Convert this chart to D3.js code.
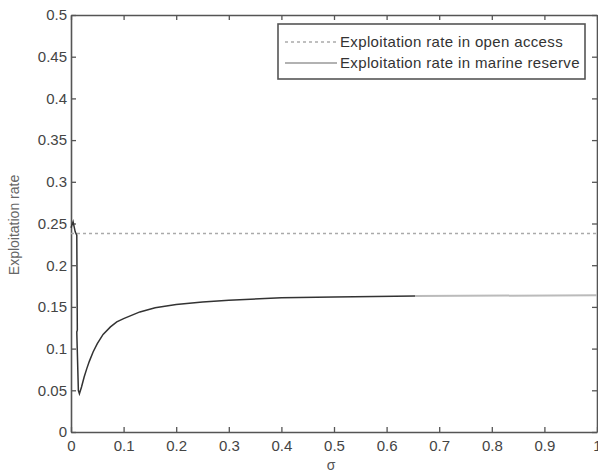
<!DOCTYPE html>
<html>
<head>
<meta charset="utf-8">
<script src="https://cdn.jsdelivr.net/npm/d3@7"></script>
<style>
  body { margin: 0; background: #fff; }
  svg { display: block; font-family: "Liberation Sans", Arial, sans-serif; }
</style>
</head>
<body>
<svg id="chart"></svg>
<script>
// chart data
const xTicks = [0, 0.1, 0.2, 0.3, 0.4, 0.5, 0.6, 0.7, 0.8, 0.9, 1];
const yTicks = [0, 0.05, 0.1, 0.15, 0.2, 0.25, 0.3, 0.35, 0.4, 0.45, 0.5];

// open access rate is flat
const openAccessRate = 0.238;

// marine reserve curve (sigma, rate)
const reserveSigma = [0, 0.004, 0.008, 0.011, 0.012, 0.011, 0.014, 0.016, 0.02, 0.025, 0.03, 0.035, 0.042, 0.05, 0.061, 0.075, 0.087, 0.1, 0.131, 0.16, 0.2, 0.25, 0.3, 0.4, 0.5, 0.654];
const reserveRate  = [0.245, 0.252, 0.240, 0.236, 0.122, 0.120, 0.050, 0.046, 0.054, 0.066, 0.076, 0.085, 0.096, 0.106, 0.117, 0.126, 0.132, 0.136, 0.144, 0.149, 0.153, 0.156, 0.158, 0.161, 0.162, 0.163];
// the last piece is drawn lighter
const tailSigma = [0.654, 1];
const tailRate  = [0.163, 0.164];

const legendLabels = ["Exploitation rate in open access", "Exploitation rate in marine reserve"];

// set the dimensions of the canvas
width = 598;
height = 474;
const margin = { left: 71, right: 1, top: 15, bottom: 42 };

const svg = d3.select("#chart")
  .attr("width", width)
  .attr("height", height);

const x = d3.scaleLinear()
  .domain([0, 1])
  .range([margin.left, width - margin.right]);

const y = d3.scaleLinear()
  .domain([0, 0.5])
  .range([height - margin.bottom, margin.top]);

const axisColor = "#555";
const fmt = (d) => String(+d.toFixed(2));

// axes, ticks point inward like a matlab box
function styleAxis(g) {
  g.selectAll("path").attr("stroke", axisColor).attr("stroke-width", 1.6);
  g.selectAll("line").attr("stroke", axisColor).attr("stroke-width", 1.3);
  g.selectAll("text").attr("fill", "#444").style("font-size", "15px");
}

svg.append("g")
  .attr("transform", `translate(0,${y(0)})`)
  .call(d3.axisBottom(x).tickValues(xTicks).tickFormat(fmt).tickSizeInner(-5).tickSizeOuter(0).tickPadding(8))
  .call(styleAxis);

svg.append("g")
  .attr("transform", `translate(${x(0)},0)`)
  .call(d3.axisLeft(y).tickValues(yTicks).tickFormat(fmt).tickSizeInner(-5).tickSizeOuter(0).tickPadding(4))
  .call(styleAxis);

// top and right borders
svg.append("g")
  .attr("transform", `translate(0,${y(0.5)})`)
  .call(d3.axisTop(x).tickValues(xTicks).tickFormat("").tickSizeInner(-5).tickSizeOuter(0))
  .call(styleAxis);

svg.append("g")
  .attr("transform", `translate(${x(1)},0)`)
  .call(d3.axisRight(y).tickValues(yTicks).tickFormat("").tickSizeInner(-5).tickSizeOuter(0))
  .call(styleAxis);

// axis labels
svg.append("text")
  .attr("x", x(0.5) - 3)
  .attr("y", 470)
  .attr("text-anchor", "middle")
  .attr("fill", "#555")
  .style("font-size", "14px")
  .text("σ");

svg.append("text")
  .attr("transform", `translate(19,225) rotate(-90)`)
  .attr("text-anchor", "middle")
  .attr("fill", "#666")
  .style("font-size", "14px")
  .text("Exploitation rate");

// open access line
svg.append("line")
  .attr("x1", x(0))
  .attr("x2", x(1))
  .attr("y1", y(openAccessRate))
  .attr("y2", y(openAccessRate))
  .attr("stroke", "#aaa")
  .attr("stroke-width", 1.6)
  .attr("stroke-dasharray", "3,3");

// marine reserve curve
const line = d3.line()
  .x((d) => x(d[0]))
  .y((d) => y(d[1]));

svg.append("path")
  .datum(reserveSigma.map((s, i) => [s, reserveRate[i]]))
  .attr("d", line)
  .attr("fill", "none")
  .attr("stroke", "#333")
  .attr("stroke-width", 1.5);

svg.append("path")
  .datum(tailSigma.map((s, i) => [s, tailRate[i]]))
  .attr("d", line)
  .attr("fill", "none")
  .attr("stroke", "#bbb")
  .attr("stroke-width", 2);

// legend
const legend = svg.append("g").attr("transform", "translate(278,24)");

legend.append("rect")
  .attr("width", 307)
  .attr("height", 55)
  .attr("fill", "#fff")
  .attr("stroke", axisColor)
  .attr("stroke-width", 1.6);

const rows = legend.selectAll("g.row")
  .data(legendLabels)
  .enter()
  .append("g")
  .attr("class", "row")
  .attr("transform", (d, i) => `translate(0,${18 + i * 21})`);

rows.append("line")
  .attr("x1", 7)
  .attr("x2", 59)
  .attr("stroke", (d, i) => (i === 0 ? "#aaa" : "#999"))
  .attr("stroke-width", 1.6)
  .attr("stroke-dasharray", (d, i) => (i === 0 ? "3,3" : null));

rows.append("text")
  .attr("x", 62)
  .attr("y", 5)
  .attr("fill", "#333")
  .style("font-size", "15px")
  .style("letter-spacing", "0.35px")
  .text((d) => d);
</script>
</body>
</html>
